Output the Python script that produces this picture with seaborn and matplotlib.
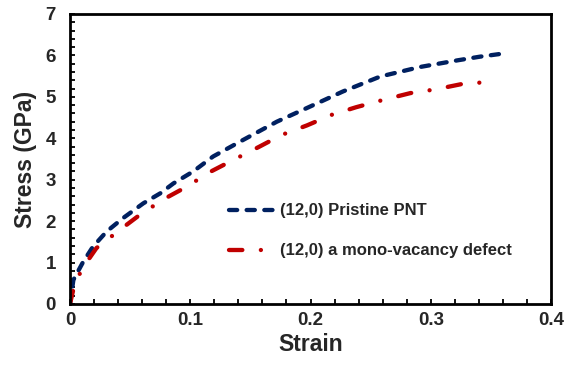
import pandas as pd
import seaborn as sns
import matplotlib.pyplot as plt
from matplotlib.ticker import MultipleLocator

# Valores (strain, stress em GPa)
pristine_strain = [0, 0.0028, 0.011, 0.019, 0.0305, 0.044, 0.061, 0.075, 0.086, 0.1025,
                   0.119, 0.144, 0.172, 0.2, 0.227, 0.258, 0.291, 0.322, 0.341, 0.359]
pristine_stress = [0, 0.58, 1.02, 1.38, 1.75, 2.07, 2.43, 2.67, 2.91, 3.20,
                   3.56, 3.96, 4.40, 4.77, 5.13, 5.49, 5.72, 5.88, 5.97, 6.04]

defect_strain = [0, 0.0014, 0.004, 0.011, 0.022, 0.042, 0.058, 0.078, 0.097, 0.116,
                 0.136, 0.157, 0.176, 0.197, 0.218, 0.238, 0.261, 0.283, 0.304, 0.326, 0.344]
defect_stress = [0, 0.18, 0.5, 0.89, 1.35, 1.80, 2.15, 2.53, 2.83, 3.18,
                 3.48, 3.79, 4.08, 4.31, 4.57, 4.75, 4.93, 5.09, 5.18, 5.31, 5.35]

labels = ["(12,0) Pristine PNT", "(12,0) a mono-vacancy defect"]
x_ticks = [0, 0.1, 0.2, 0.3, 0.4]
y_ticks = [0, 1, 2, 3, 4, 5, 6, 7]

pristine = pd.DataFrame({"Strain": pristine_strain, "Stress": pristine_stress})
defect = pd.DataFrame({"Strain": defect_strain, "Stress": defect_stress})

sns.set_style("white")
plt.rcParams['font.family'] = ['Liberation Sans', 'DejaVu Sans']
plt.rcParams['font.weight'] = 'bold'

fig = plt.figure(figsize=(5.71, 3.68), dpi=100)
ax = fig.add_axes([0.1226, 0.174, 0.8424, 0.788])

sns.lineplot(data=pristine, x="Strain", y="Stress", ax=ax, sort=False,
             color="#002060", linewidth=3.1, linestyle=(0, (1.9, 2.2)),
             dash_capstyle='round', label=labels[0])
sns.lineplot(data=defect, x="Strain", y="Stress", ax=ax, sort=False,
             color="#C00000", linewidth=3.1, linestyle=(0, (3.1, 4.3, 0.01, 4.3)),
             dash_capstyle='round', label=labels[1])

ax.set_xlim(0, 0.4)
ax.set_ylim(0, 7)
ax.set_xticks(x_ticks)
ax.set_xticklabels(["0", "0.1", "0.2", "0.3", "0.4"])
ax.set_yticks(y_ticks)
ax.xaxis.set_minor_locator(MultipleLocator(0.02))
ax.yaxis.set_minor_locator(MultipleLocator(0.2))

ax.tick_params(axis='both', which='both', direction='in', length=3.5, width=1.3,
               color='black', bottom=True, left=True, top=False, right=False)
ax.tick_params(axis='x', which='major', pad=6, labelsize=13.5)
ax.tick_params(axis='y', which='major', pad=10, labelsize=13.5)
for lbl in ax.get_xticklabels() + ax.get_yticklabels():
    lbl.set_fontweight('bold')

for s in ax.spines.values():
    s.set_linewidth(2.0)
    s.set_color('black')

ax.set_xlabel("Strain", fontsize=16.5, fontweight='bold', labelpad=3)
ax.set_ylabel("Stress (GPa)", fontsize=16.5, fontweight='bold', labelpad=6)

ax.legend(loc='center left', bbox_to_anchor=(0.33, 0.252), frameon=False,
          handlelength=2.75, handletextpad=0.3, labelspacing=1.5,
          borderpad=0, borderaxespad=0, prop={'weight': 'bold', 'size': 12})

fig.savefig("out.png", dpi=100)
